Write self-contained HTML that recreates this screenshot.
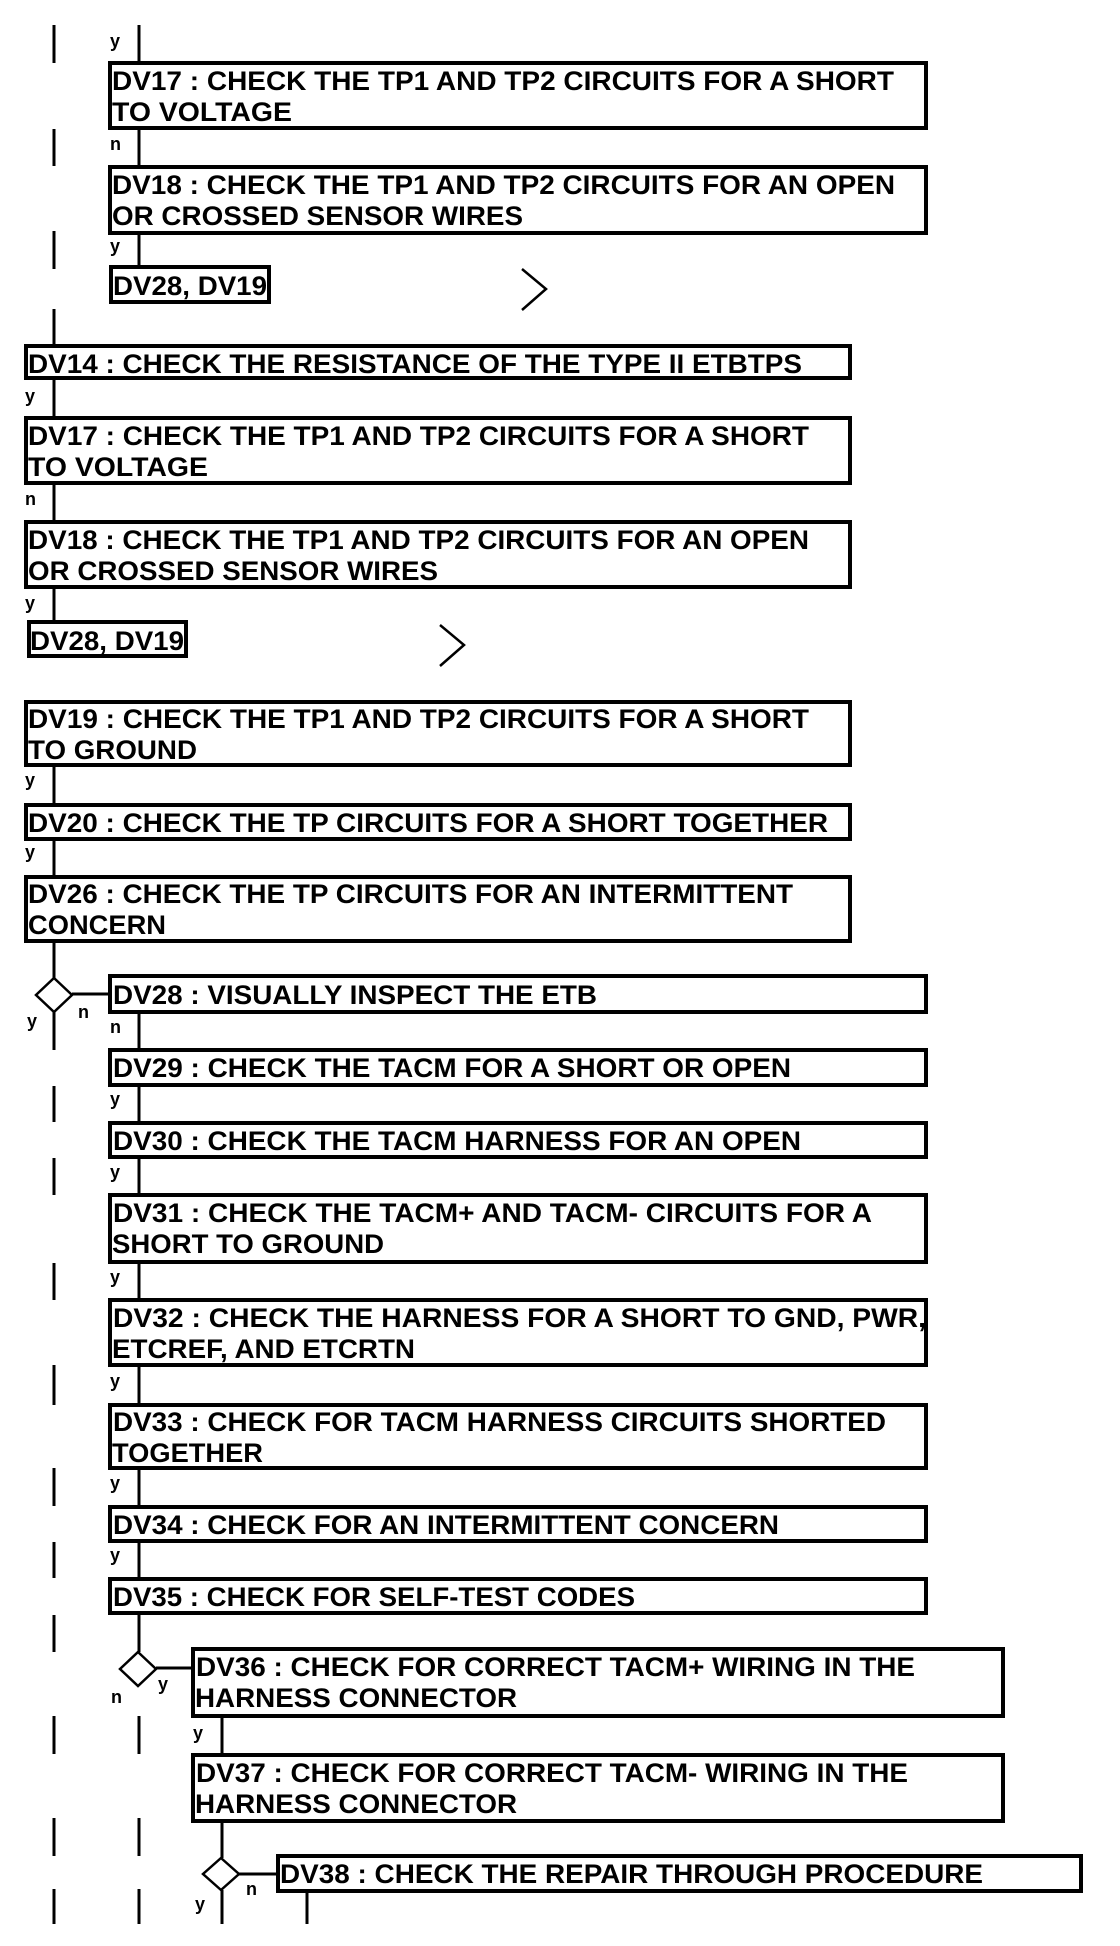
<!DOCTYPE html>
<html><head><meta charset="utf-8"><style>
html,body{margin:0;padding:0;background:#fff;}
svg{display:block;}
text{font-family:"Liberation Sans",Arial,sans-serif;font-weight:bold;fill:#000;}
.t{font-size:27px;}
.l{font-size:18px;}
</style></head><body>
<svg width="1120" height="1946" viewBox="0 0 1120 1946" xmlns="http://www.w3.org/2000/svg">
<g stroke="#000" stroke-width="4" fill="#fff">
<!-- boxes -->
<rect x="110" y="63" width="816" height="65"/>
<rect x="110" y="167" width="816" height="66"/>
<rect x="111" y="267" width="158" height="35"/>
<rect x="26" y="346" width="824" height="32"/>
<rect x="26" y="418" width="824" height="65"/>
<rect x="26" y="522" width="824" height="65"/>
<rect x="29" y="622" width="157" height="34"/>
<rect x="26" y="702" width="824" height="63"/>
<rect x="26" y="805" width="824" height="34"/>
<rect x="26" y="877" width="824" height="64"/>
<rect x="110" y="976" width="816" height="36"/>
<rect x="110" y="1050" width="816" height="35"/>
<rect x="110" y="1123" width="816" height="34"/>
<rect x="110" y="1195" width="816" height="67"/>
<rect x="110" y="1300" width="816" height="65"/>
<rect x="110" y="1405" width="816" height="63"/>
<rect x="110" y="1507" width="816" height="34"/>
<rect x="110" y="1579" width="816" height="34"/>
<rect x="193" y="1649" width="810" height="67"/>
<rect x="193" y="1755" width="810" height="66"/>
<rect x="278" y="1856" width="803" height="35"/>
</g>
<g stroke="#000" stroke-width="3" fill="none">
<!-- left dashed line x=54 -->
<line x1="54" y1="25" x2="54" y2="63"/>
<line x1="54" y1="129" x2="54" y2="166"/>
<line x1="54" y1="231" x2="54" y2="269"/>
<line x1="54" y1="309" x2="54" y2="346"/>
<line x1="54" y1="378" x2="54" y2="418"/>
<line x1="54" y1="483" x2="54" y2="522"/>
<line x1="54" y1="587" x2="54" y2="622"/>
<line x1="54" y1="765" x2="54" y2="805"/>
<line x1="54" y1="839" x2="54" y2="877"/>
<line x1="54" y1="941" x2="54" y2="978"/>
<line x1="54" y1="1012" x2="54" y2="1050"/>
<line x1="54" y1="1086" x2="54" y2="1122"/>
<line x1="54" y1="1158" x2="54" y2="1195"/>
<line x1="54" y1="1263" x2="54" y2="1300"/>
<line x1="54" y1="1365" x2="54" y2="1405"/>
<line x1="54" y1="1468" x2="54" y2="1506"/>
<line x1="54" y1="1542" x2="54" y2="1578"/>
<line x1="54" y1="1615" x2="54" y2="1652"/>
<line x1="54" y1="1716" x2="54" y2="1754"/>
<line x1="54" y1="1818" x2="54" y2="1856"/>
<line x1="54" y1="1889" x2="54" y2="1924"/>
<!-- inner x=139 -->
<line x1="139" y1="25" x2="139" y2="63"/>
<line x1="139" y1="128" x2="139" y2="167"/>
<line x1="139" y1="233" x2="139" y2="267"/>
<line x1="139" y1="1012" x2="139" y2="1050"/>
<line x1="139" y1="1085" x2="139" y2="1123"/>
<line x1="139" y1="1157" x2="139" y2="1195"/>
<line x1="139" y1="1262" x2="139" y2="1300"/>
<line x1="139" y1="1365" x2="139" y2="1405"/>
<line x1="139" y1="1468" x2="139" y2="1507"/>
<line x1="139" y1="1541" x2="139" y2="1579"/>
<line x1="139" y1="1613" x2="139" y2="1652"/>
<line x1="139" y1="1716" x2="139" y2="1754"/>
<line x1="139" y1="1818" x2="139" y2="1856"/>
<line x1="139" y1="1889" x2="139" y2="1924"/>
<!-- x=222 -->
<line x1="222" y1="1716" x2="222" y2="1755"/>
<line x1="222" y1="1821" x2="222" y2="1858"/>
<line x1="222" y1="1890" x2="222" y2="1924"/>
<line x1="307" y1="1891" x2="307" y2="1924"/>
<!-- horizontals -->
<line x1="72" y1="994" x2="110" y2="994"/>
<line x1="156" y1="1668" x2="193" y2="1668"/>
<line x1="239" y1="1874" x2="278" y2="1874"/>
</g>
<g stroke="#000" stroke-width="2.5" fill="#fff">
<polygon points="54,978 72,995 54,1012 36,995"/>
<polygon points="138,1652 156,1669 138,1686 120,1669"/>
<polygon points="221,1858 239,1874 221,1890 203,1874"/>
</g>
<g stroke="#000" stroke-width="2.5" fill="none">
<polyline points="522,269 546,289 522,310"/>
<polyline points="440,625 464,645 440,666"/>
</g>
<g class="t">
<text x="112" y="90" textLength="782" lengthAdjust="spacingAndGlyphs">DV17 : CHECK THE TP1 AND TP2 CIRCUITS FOR A SHORT</text>
<text x="112" y="121" textLength="180" lengthAdjust="spacingAndGlyphs">TO VOLTAGE</text>
<text x="112" y="194" textLength="783" lengthAdjust="spacingAndGlyphs">DV18 : CHECK THE TP1 AND TP2 CIRCUITS FOR AN OPEN</text>
<text x="112" y="225" textLength="411" lengthAdjust="spacingAndGlyphs">OR CROSSED SENSOR WIRES</text>
<text x="113" y="295" textLength="154" lengthAdjust="spacingAndGlyphs">DV28, DV19</text>
<text x="28" y="373" textLength="774" lengthAdjust="spacingAndGlyphs">DV14 : CHECK THE RESISTANCE OF THE TYPE II ETBTPS</text>
<text x="28" y="445" textLength="781" lengthAdjust="spacingAndGlyphs">DV17 : CHECK THE TP1 AND TP2 CIRCUITS FOR A SHORT</text>
<text x="28" y="476" textLength="180" lengthAdjust="spacingAndGlyphs">TO VOLTAGE</text>
<text x="28" y="549" textLength="781" lengthAdjust="spacingAndGlyphs">DV18 : CHECK THE TP1 AND TP2 CIRCUITS FOR AN OPEN</text>
<text x="28" y="580" textLength="410" lengthAdjust="spacingAndGlyphs">OR CROSSED SENSOR WIRES</text>
<text x="30" y="650" textLength="154" lengthAdjust="spacingAndGlyphs">DV28, DV19</text>
<text x="28" y="728" textLength="781" lengthAdjust="spacingAndGlyphs">DV19 : CHECK THE TP1 AND TP2 CIRCUITS FOR A SHORT</text>
<text x="28" y="759" textLength="169" lengthAdjust="spacingAndGlyphs">TO GROUND</text>
<text x="28" y="832" textLength="800" lengthAdjust="spacingAndGlyphs">DV20 : CHECK THE TP CIRCUITS FOR A SHORT TOGETHER</text>
<text x="28" y="903" textLength="765" lengthAdjust="spacingAndGlyphs">DV26 : CHECK THE TP CIRCUITS FOR AN INTERMITTENT</text>
<text x="28" y="934" textLength="138" lengthAdjust="spacingAndGlyphs">CONCERN</text>
<text x="113" y="1004" textLength="484" lengthAdjust="spacingAndGlyphs">DV28 : VISUALLY INSPECT THE ETB</text>
<text x="113" y="1077" textLength="678" lengthAdjust="spacingAndGlyphs">DV29 : CHECK THE TACM FOR A SHORT OR OPEN</text>
<text x="113" y="1150" textLength="688" lengthAdjust="spacingAndGlyphs">DV30 : CHECK THE TACM HARNESS FOR AN OPEN</text>
<text x="113" y="1222" textLength="759" lengthAdjust="spacingAndGlyphs">DV31 : CHECK THE TACM+ AND TACM- CIRCUITS FOR A</text>
<text x="112" y="1253" textLength="272" lengthAdjust="spacingAndGlyphs">SHORT TO GROUND</text>
<text x="113" y="1327" textLength="813" lengthAdjust="spacingAndGlyphs">DV32 : CHECK THE  HARNESS FOR A SHORT TO GND, PWR,</text>
<text x="112" y="1358" textLength="303" lengthAdjust="spacingAndGlyphs">ETCREF, AND ETCRTN</text>
<text x="113" y="1431" textLength="773" lengthAdjust="spacingAndGlyphs">DV33 : CHECK FOR TACM HARNESS CIRCUITS SHORTED</text>
<text x="112" y="1462" textLength="151" lengthAdjust="spacingAndGlyphs">TOGETHER</text>
<text x="113" y="1534" textLength="666" lengthAdjust="spacingAndGlyphs">DV34 : CHECK FOR AN INTERMITTENT CONCERN</text>
<text x="113" y="1606" textLength="522" lengthAdjust="spacingAndGlyphs">DV35 : CHECK FOR SELF-TEST CODES</text>
<text x="196" y="1676" textLength="719" lengthAdjust="spacingAndGlyphs">DV36 : CHECK FOR CORRECT TACM+ WIRING IN THE</text>
<text x="195" y="1707" textLength="322" lengthAdjust="spacingAndGlyphs">HARNESS CONNECTOR</text>
<text x="196" y="1782" textLength="712" lengthAdjust="spacingAndGlyphs">DV37 : CHECK FOR CORRECT TACM- WIRING IN THE</text>
<text x="195" y="1813" textLength="322" lengthAdjust="spacingAndGlyphs">HARNESS CONNECTOR</text>
<text x="280" y="1883" textLength="703" lengthAdjust="spacingAndGlyphs">DV38 : CHECK THE REPAIR THROUGH PROCEDURE</text>
</g>
<g class="l">
<text x="110" y="47">y</text>
<text x="110" y="150">n</text>
<text x="110" y="252">y</text>
<text x="25" y="402">y</text>
<text x="25" y="505">n</text>
<text x="25" y="609">y</text>
<text x="25" y="786">y</text>
<text x="25" y="858">y</text>
<text x="78" y="1018">n</text>
<text x="27" y="1027">y</text>
<text x="110" y="1033">n</text>
<text x="110" y="1105">y</text>
<text x="110" y="1178">y</text>
<text x="110" y="1283">y</text>
<text x="110" y="1387">y</text>
<text x="110" y="1489">y</text>
<text x="110" y="1561">y</text>
<text x="158" y="1690">y</text>
<text x="111" y="1703">n</text>
<text x="193" y="1739">y</text>
<text x="246" y="1895">n</text>
<text x="195" y="1910">y</text>
</g>
</svg>
</body></html>
